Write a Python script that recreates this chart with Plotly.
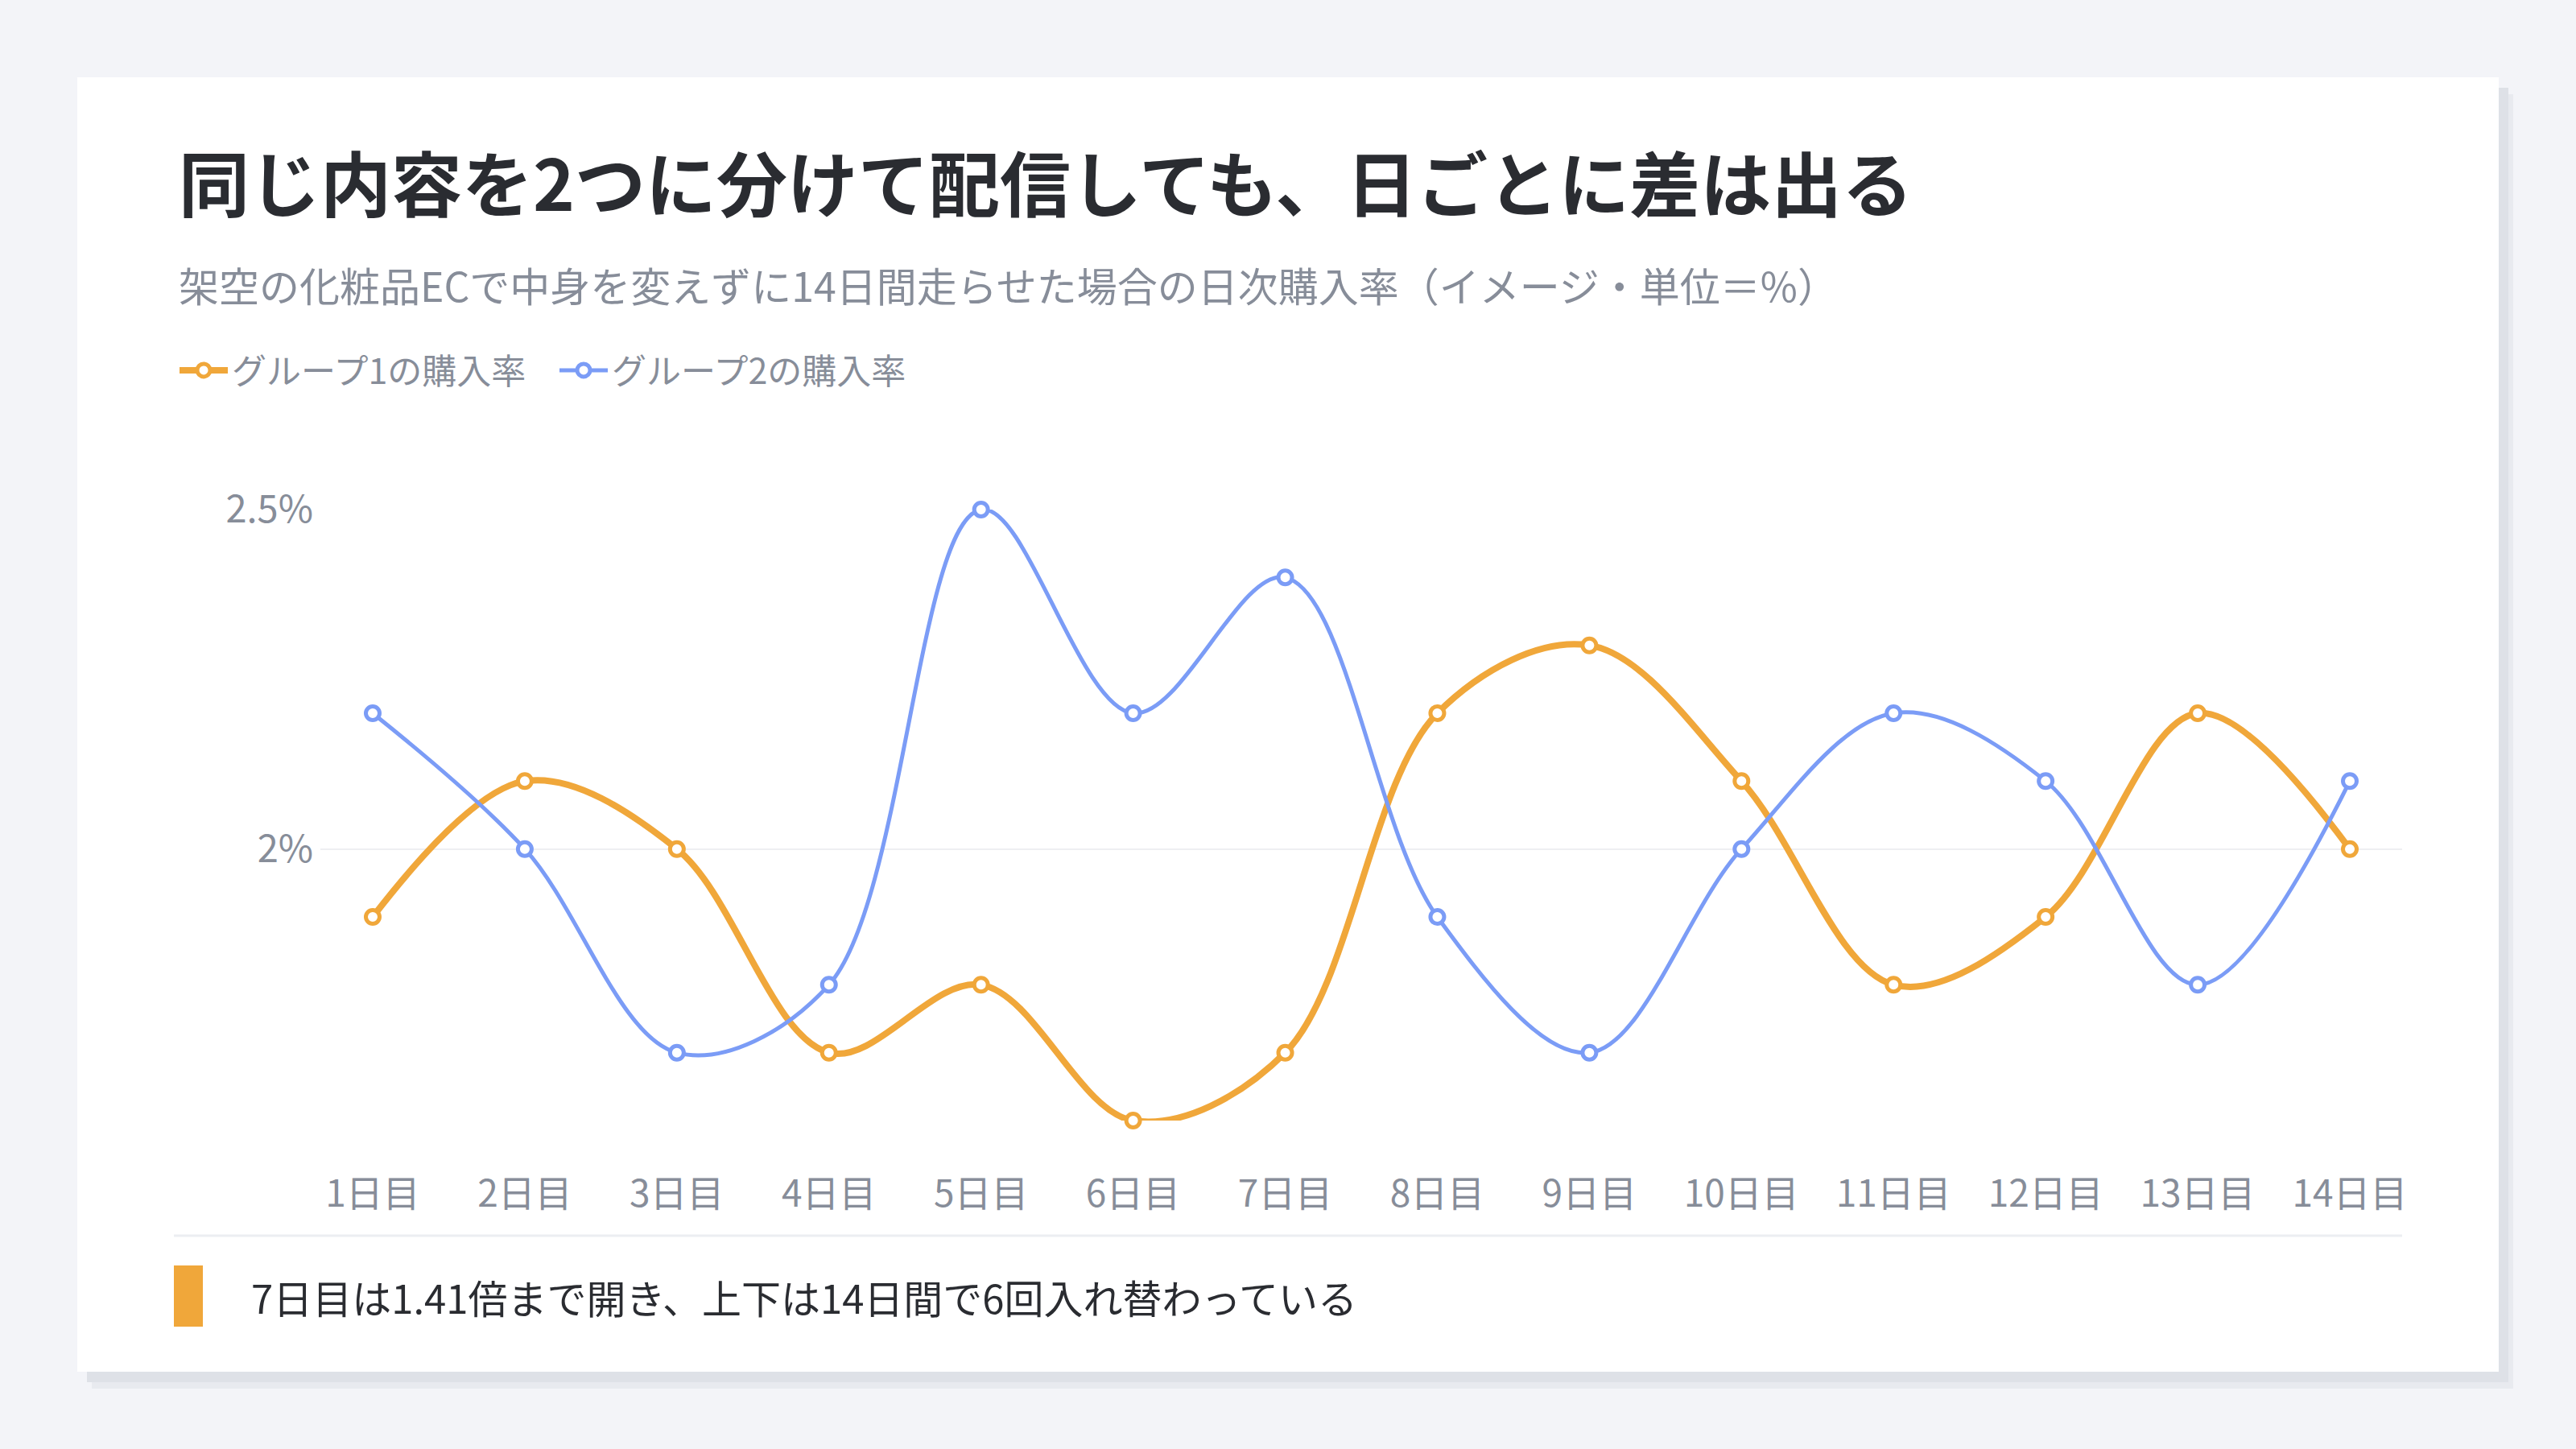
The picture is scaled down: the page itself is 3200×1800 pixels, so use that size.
import plotly.graph_objects as go

# data
days = ["1日目", "2日目", "3日目", "4日目", "5日目", "6日目", "7日目",
        "8日目", "9日目", "10日目", "11日目", "12日目", "13日目", "14日目"]
group1 = [1.9, 2.1, 2.0, 1.7, 1.8, 1.6, 1.7, 2.2, 2.3, 2.1, 1.8, 1.9, 2.2, 2.0]
group2 = [2.2, 2.0, 1.7, 1.8, 2.5, 2.2, 2.4, 1.9, 1.7, 2.0, 2.2, 2.1, 1.8, 2.1]
y_ticks = [2.0, 2.5]
y_tick_labels = ["2%", "2.5%"]

title = "同じ内容を2つに分けて配信しても、日ごとに差は出る"
subtitle = "架空の化粧品ECで中身を変えずに14日間走らせた場合の日次購入率（イメージ・単位＝%）"
note = "7日目は1.41倍まで開き、上下は14日間で6回入れ替わっている"

W, H = 3200, 1800
L, R, T, B = 398, 2984, 633, 1392  # plot area in pixels
FONT = "Noto Sans CJK JP"
ORANGE = "#f0a73a"
BLUE = "#7b9cf6"
GRAY = "#878d99"
DARK = "#2a2c31"


def px(x):
    return (x - L) / (R - L)


def py(y):
    return (B - y) / (B - T)


fig = go.Figure()
fig.add_trace(go.Scatter(
    x=days, y=group1, name="グループ1の購入率", mode="lines+markers",
    line=dict(color=ORANGE, width=8, shape="spline", smoothing=1.0),
    marker=dict(size=17, color="white", line=dict(color=ORANGE, width=5)),
    cliponaxis=False))
fig.add_trace(go.Scatter(
    x=days, y=group2, name="グループ2の購入率", mode="lines+markers",
    line=dict(color=BLUE, width=5, shape="spline", smoothing=1.0),
    marker=dict(size=17, color="white", line=dict(color=BLUE, width=5)),
    cliponaxis=False))

# card, shadow, divider, note bar
shapes = [
    dict(type="rect", xref="paper", yref="paper", layer="below",
         x0=px(114), x1=px(3122), y0=py(117), y1=py(1725),
         fillcolor="#e8eaef", line_width=0),
    dict(type="rect", xref="paper", yref="paper", layer="below",
         x0=px(108), x1=px(3116), y0=py(109), y1=py(1717),
         fillcolor="#dee1e7", line_width=0),
    dict(type="rect", xref="paper", yref="paper", layer="below",
         x0=px(96), x1=px(3104), y0=py(96), y1=py(1704),
         fillcolor="white", line_width=0),
    dict(type="line", xref="paper", yref="paper", layer="below",
         x0=px(216), x1=px(2984), y0=py(1535), y1=py(1535),
         line=dict(color="#eceef2", width=3)),
    dict(type="rect", xref="paper", yref="paper", layer="below",
         x0=px(216), x1=px(252), y0=py(1572), y1=py(1648),
         fillcolor=ORANGE, line_width=0),
]

annotations = [
    dict(text="<b>" + title + "</b>", xref="paper", yref="paper",
         x=px(220), y=py(224), xanchor="left", yanchor="middle", showarrow=False,
         font=dict(family=FONT, size=88, color=DARK)),
    dict(text=subtitle, xref="paper", yref="paper",
         x=px(220), y=py(353), xanchor="left", yanchor="middle", showarrow=False,
         font=dict(family=FONT, size=50, color=GRAY)),
    dict(text=note, xref="paper", yref="paper",
         x=px(310), y=py(1610), xanchor="left", yanchor="middle", showarrow=False,
         font=dict(family=FONT, size=49, color=DARK)),
]

fig.update_layout(
    width=W, height=H,
    margin=dict(l=L, r=W - R, t=T, b=H - B, pad=0),
    paper_bgcolor="#f3f4f8", plot_bgcolor="rgba(0,0,0,0)",
    font=dict(family=FONT, color=GRAY),
    shapes=shapes, annotations=annotations,
    showlegend=True,
    legend=dict(orientation="h", x=px(218), y=py(460), xanchor="left", yanchor="middle",
                font=dict(family=FONT, size=43, color=GRAY),
                bgcolor="rgba(0,0,0,0)", itemwidth=60, tracegroupgap=0,
                entrywidth=397, entrywidthmode="pixels"),
)
fig.update_xaxes(range=[-0.344, 13.344], showgrid=False, showline=False, zeroline=False,
                 ticks="", ticklabelstandoff=60,
                 tickfont=dict(family=FONT, size=46, color=GRAY))
fig.update_yaxes(range=[1.6, 2.5], tickvals=y_ticks, ticktext=y_tick_labels,
                 showgrid=True, gridcolor="#eeeff2", gridwidth=2, zeroline=False,
                 showline=False, ticks="", ticklabelstandoff=8,
                 tickfont=dict(family=FONT, size=47, color=GRAY))

fig.write_html("out.html", config={"displayModeBar": False},
               post_script="document.body.style.margin='0';")
